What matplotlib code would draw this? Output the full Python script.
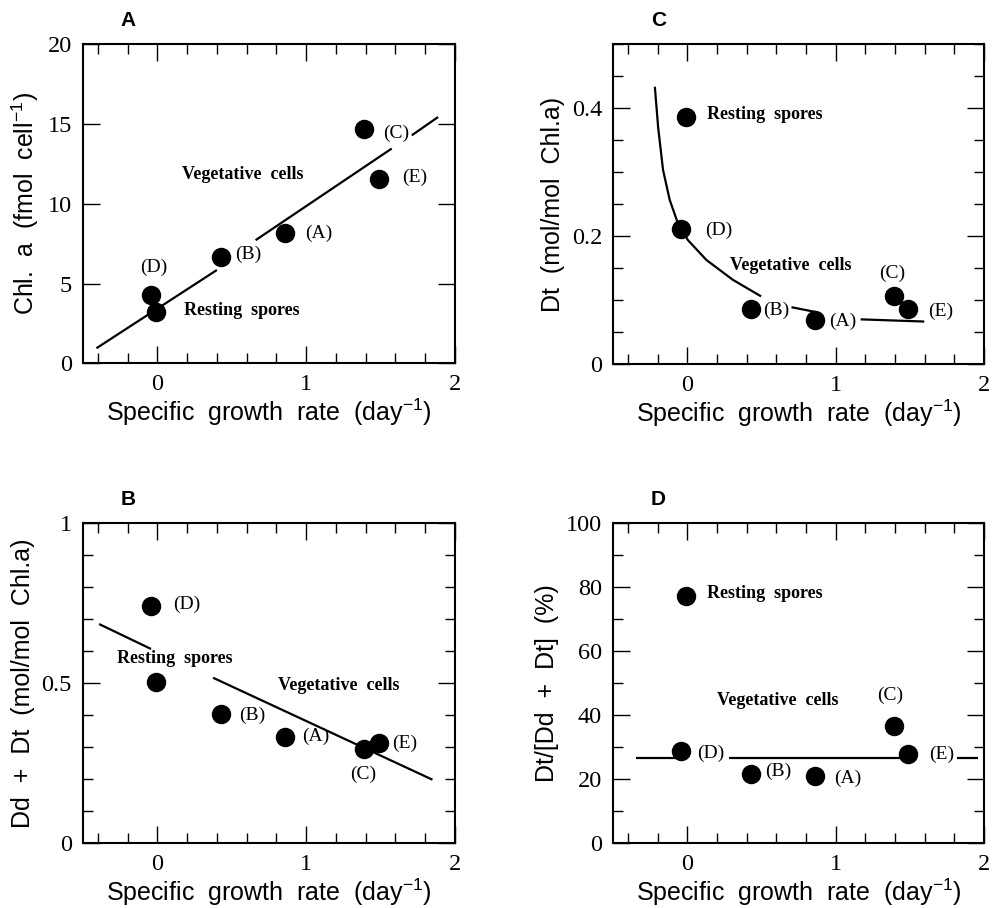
import numpy as np
import matplotlib
matplotlib.use('Agg')
import matplotlib.pyplot as plt
from matplotlib.ticker import MultipleLocator, FormatStrFormatter

plt.rcParams['mathtext.fontset'] = 'custom'
plt.rcParams['mathtext.rm'] = 'Liberation Sans'
plt.rcParams['mathtext.it'] = 'Liberation Sans:italic'

# cultures (A)..(E) and the resting spores
cultures = ['(A)', '(B)', '(C)', '(D)', '(E)']
growth = [0.86, 0.43, 1.39, -0.04, 1.49]
growth_rest = -0.01

chl = [8.14, 6.68, 14.68, 4.28, 11.55]
chl_rest = 3.24
dt = [0.069, 0.086, 0.106, 0.211, 0.086]
dt_rest = 0.386
dd_dt = [0.333, 0.404, 0.295, 0.743, 0.314]
dd_dt_rest = 0.503
dt_ratio = [21.1, 21.5, 36.7, 28.9, 27.9]
dt_ratio_rest = 77.2

# fitted lines (x list, y list)
fit_chl = [([-0.41, 0.40], [0.94, 5.85]),
           ([0.66, 1.575], [7.72, 13.47]),
           ([1.71, 1.887], [14.30, 15.45])]
fit_dt = [([-0.219, -0.197, -0.164, -0.119, -0.063, 0.004, 0.128, 0.306, 0.497],
           [0.434, 0.371, 0.304, 0.257, 0.220, 0.194, 0.163, 0.132, 0.106]),
          ([0.702, 0.877], [0.089, 0.081]),
          ([1.168, 1.597], [0.070, 0.0666])]
fit_dd_dt = [([-0.392, -0.043], [0.685, 0.607]),
             ([0.374, 1.849], [0.517, 0.198])]
fit_ratio = [([-0.345, -0.085], [26.7, 26.7]),
             ([0.283, 1.445], [26.7, 26.7]),
             ([1.815, 1.958], [26.7, 26.7])]

SERIF = 'Liberation Serif'
SANS = 'Liberation Sans'


def panel(ax, letter, yvals, yrest, fits, ylabel, ylim, ymaj, ymin,
          offsets, rest_off, veg_xy, rest_xy=None):
    for xs, ys in fits:
        ax.plot(xs, ys, color='k', lw=1.6, solid_capstyle='butt')
    ax.plot(growth, yvals, 'o', color='k', ms=13, ls='none')
    ax.plot([growth_rest], [yrest], 'o', color='k', ms=13, ls='none')

    for name, x, y in zip(cultures, growth, yvals):
        dx, dy, ha = offsets[name]
        ax.annotate(name, (x, y), xytext=(dx, dy), textcoords='offset pixels',
                    ha=ha, va='center', fontfamily=SERIF, fontsize=14)
    if rest_xy is None:
        ax.annotate('Resting  spores', (growth_rest, yrest), xytext=rest_off,
                    textcoords='offset pixels', ha='left', va='center',
                    fontfamily=SERIF, fontsize=13, fontweight='bold')
    else:
        ax.text(rest_xy[0], rest_xy[1], 'Resting  spores', ha='left', va='center',
                fontfamily=SERIF, fontsize=13, fontweight='bold')
    ax.text(veg_xy[0], veg_xy[1], 'Vegetative  cells', ha='left', va='center',
            fontfamily=SERIF, fontsize=13, fontweight='bold')

    ax.set_xlim(-0.5, 2)
    ax.set_ylim(*ylim)
    ax.xaxis.set_major_locator(MultipleLocator(1))
    ax.xaxis.set_minor_locator(MultipleLocator(0.2))
    ax.yaxis.set_major_locator(MultipleLocator(ymaj))
    if ymin:
        ax.yaxis.set_minor_locator(MultipleLocator(ymin))
    ax.yaxis.set_major_formatter(FormatStrFormatter('%g'))
    ax.tick_params(which='both', direction='in', top=True, right=True, width=1.0)
    ax.tick_params(which='major', length=12, pad=8)
    ax.tick_params(which='minor', length=7)
    for lab in ax.get_xticklabels() + ax.get_yticklabels():
        lab.set_fontfamily(SERIF)
        lab.set_fontsize(17.5)
    for sp in ax.spines.values():
        sp.set_linewidth(1.5)

    ax.set_xlabel('Specific  growth  rate  (day$^{-1}$)', fontfamily=SANS,
                  fontsize=18, labelpad=1)
    ax.set_ylabel(ylabel, fontfamily=SANS, fontsize=18, labelpad=5)
    ax.text(0.122, 1.075, letter, transform=ax.transAxes, ha='center',
            va='center', fontfamily=SANS, fontweight='bold', fontsize=15)


fig = plt.figure(figsize=(9.97, 9.08), dpi=100)
axA = fig.add_axes([0.0833, 0.600, 0.373, 0.351])
axC = fig.add_axes([0.615, 0.599, 0.372, 0.352])
axB = fig.add_axes([0.0833, 0.0716, 0.373, 0.352])
axD = fig.add_axes([0.615, 0.0716, 0.372, 0.352])

panel(axA, 'A', chl, chl_rest, fit_chl, 'Chl.  a  (fmol  cell$^{-1}$)',
      (0, 20), 5, None,
      {'(A)': (20, 0, 'left'), '(B)': (14, 2, 'left'), '(C)': (19, -4, 'left'),
       '(D)': (2, 28, 'center'), '(E)': (23, 2, 'left')},
      (28, 1), (0.167, 11.86))

panel(axC, 'C', dt, dt_rest, fit_dt, 'Dt  (mol/mol  Chl.a)',
      (0, 0.5), 0.2, 0.05,
      {'(A)': (14, -1, 'left'), '(B)': (12, -1, 'left'), '(C)': (-1, 23, 'center'),
       '(D)': (24, -1, 'left'), '(E)': (20, -2, 'left')},
      (21, 3), (0.29, 0.154))

panel(axB, 'B', dd_dt, dd_dt_rest, fit_dd_dt, 'Dd  +  Dt  (mol/mol  Chl.a)',
      (0, 1), 0.5, 0.1,
      {'(A)': (17, 0, 'left'), '(B)': (18, -1, 'left'), '(C)': (-1, -26, 'center'),
       '(D)': (22, 1, 'left'), '(E)': (13, -1, 'left')},
      None, (0.813, 0.493), rest_xy=(-0.275, 0.576))

panel(axD, 'D', dt_ratio, dt_ratio_rest, fit_ratio, 'Dt/[Dd  +  Dt]  (%)',
      (0, 100), 20, 10,
      {'(A)': (19, -3, 'left'), '(B)': (14, 3, 'left'), '(C)': (-3, 30, 'center'),
       '(D)': (16, -3, 'left'), '(E)': (21, -1, 'left')},
      (21, 3), (0.198, 44.7))

fig.savefig('out.png', dpi=100)
